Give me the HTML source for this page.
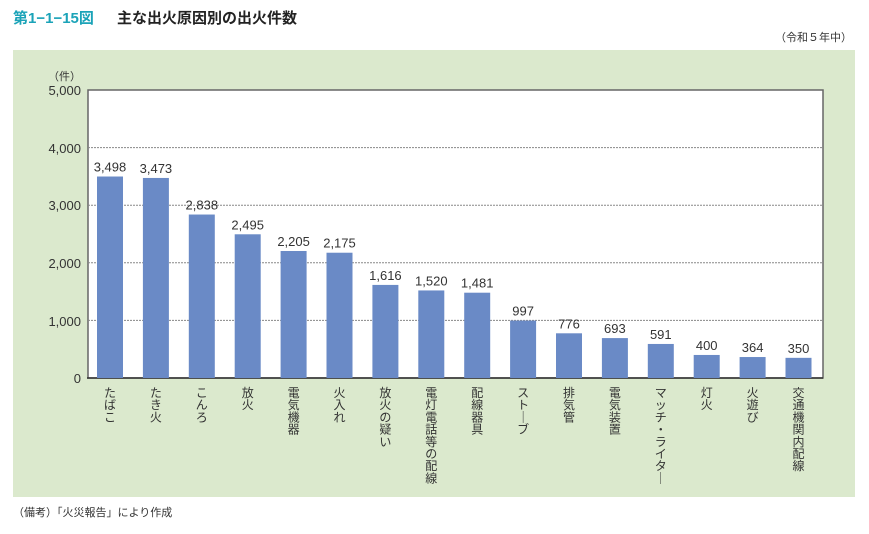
<!DOCTYPE html>
<html><head><meta charset="utf-8"><style>
body{margin:0;width:869px;height:529px;background:#fff;font-family:"Liberation Sans","Noto Sans CJK JP",sans-serif;overflow:hidden}
svg text{font-family:"Liberation Sans","Noto Sans CJK JP",sans-serif}
</style></head><body>
<svg width="869" height="529" xmlns="http://www.w3.org/2000/svg">
<text x="13" y="23" font-size="15" fill="#1ba3b8" font-weight="bold">第1−1−15図</text>
<text x="117" y="23" font-size="15" fill="#222" font-weight="bold">主な出火原因別の出火件数</text>
<text x="852" y="41" font-size="11" fill="#333" text-anchor="end">（令和５年中）</text>
<rect x="13" y="50" width="842" height="447" fill="#dbe9cd"/>
<rect x="88" y="90" width="735" height="288" fill="#fff" stroke="#666" stroke-width="1.5"/>
<g stroke="#888" stroke-dasharray="2,1" stroke-width="1">
<line x1="88" x2="823" y1="147.6" y2="147.6"/><line x1="88" x2="823" y1="205.2" y2="205.2"/>
<line x1="88" x2="823" y1="262.8" y2="262.8"/><line x1="88" x2="823" y1="320.4" y2="320.4"/>
</g>
<line x1="87" x2="823" y1="378" y2="378" stroke="#333" stroke-width="1.5"/>
<g font-size="13" fill="#333" text-anchor="end">
<text x="81" y="80" font-size="11">（件）</text>
<text x="81" y="95">5,000</text><text x="81" y="153">4,000</text><text x="81" y="210">3,000</text>
<text x="81" y="268">2,000</text><text x="81" y="326">1,000</text><text x="81" y="383">0</text>
</g>
<g id="bars" fill="#6a8ac6"></g>
<g id="vals" font-size="13" fill="#333" text-anchor="middle"></g>
<g id="labs" font-size="12" fill="#333"></g>
<text x="13" y="516" font-size="11" fill="#333">（備考）「火災報告」により作成</text>
</svg>
<script>
var d=[["たばこ",3498],["たき火",3473],["こんろ",2838],["放火",2495],["電気機器",2205],["火入れ",2175],["放火の疑い",1616],["電灯電話等の配線",1520],["配線器具",1481],["ストーブ",997],["排気管",776],["電気装置",693],["マッチ・ライター",591],["灯火",400],["火遊び",364],["交通機関内配線",350]];
var ns="http://www.w3.org/2000/svg",b=document.getElementById("bars"),v=document.getElementById("vals"),l=document.getElementById("labs");
d.forEach(function(e,i){var cx=110+i*45.9,h=e[1]*0.0576;
var r=document.createElementNS(ns,"rect");r.setAttribute("x",cx-13);r.setAttribute("width",26);r.setAttribute("y",378-h);r.setAttribute("height",h);b.appendChild(r);
var t=document.createElementNS(ns,"text");t.setAttribute("x",cx);t.setAttribute("y",378-h-5);t.textContent=e[1].toLocaleString("en-US");v.appendChild(t);
var ch=e[0].split("");ch.forEach(function(c,j){var s=document.createElementNS(ns,"text");s.setAttribute("x",cx);s.setAttribute("y",397+j*12.2);s.setAttribute("text-anchor","middle");s.textContent=(c=="ー")?"｜":c;l.appendChild(s);});
});
</script>
</body></html>
